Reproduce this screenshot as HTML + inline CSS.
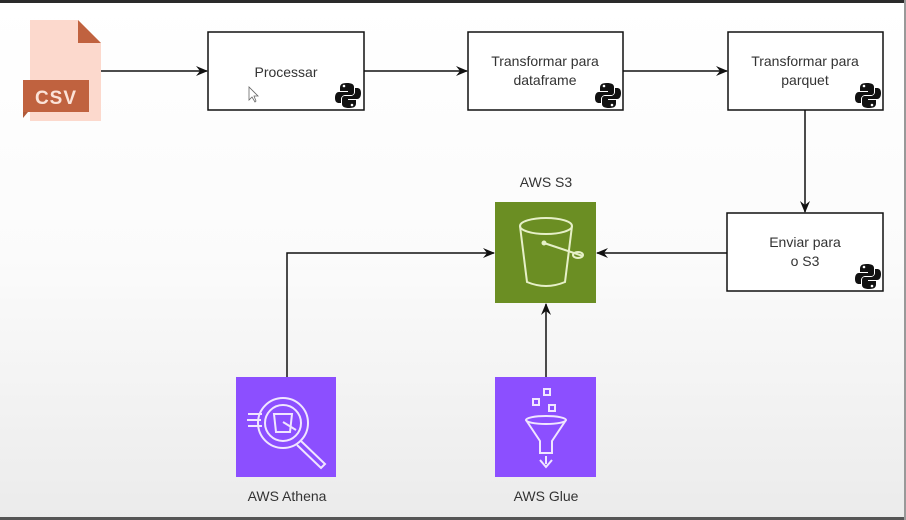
<!DOCTYPE html>
<html><head><meta charset="utf-8"><style>
html,body{margin:0;padding:0}
body{width:906px;height:520px;overflow:hidden;background:linear-gradient(#ffffff 0%,#fbfbfb 50%,#ebebeb 100%);font-family:"Liberation Sans",sans-serif;position:relative}
</style></head><body>
<svg width="906" height="520" viewBox="0 0 906 520" xmlns="http://www.w3.org/2000/svg" style="position:absolute;left:0;top:0">
<defs>
<marker id="ah" markerWidth="12" markerHeight="12" refX="11" refY="6" orient="auto" markerUnits="userSpaceOnUse">
<path d="M0,1 L12,6 L0,11 L4,6 Z" fill="#111"/>
</marker>
<g id="py">
<path d="M-1,-12 C-7,-12 -8,-10 -8,-7 L-8,-4 L0,-4 L0,-3 L-9,-3 C-12,-3 -13,0 -13,3 C-13,7 -11,8 -9,8 L-7,8 L-7,4 C-7,2 -5,0 -3,0 L3,0 C5,0 6,-1 6,-3 L6,-8 C6,-11 3,-12 -1,-12 Z" fill="#111"/>
<path d="M1,13 C7,13 8,11 8,8 L8,5 L0,5 L0,4 L9,4 C12,4 13,1 13,-2 C13,-6 11,-7 9,-7 L7,-7 L7,-3 C7,-1 5,1 3,1 L-3,1 C-5,1 -6,2 -6,4 L-6,9 C-6,12 -3,13 1,13 Z" fill="#111"/>
<circle cx="-4" cy="-9" r="1.3" fill="#fff"/><circle cx="4" cy="10" r="1.3" fill="#fff"/>
</g>
</defs>
<rect x="0" y="0" width="906" height="3" fill="#2a2a2a"/>
<rect x="0" y="517" width="906" height="3" fill="#555"/>
<rect x="904" y="0" width="2" height="520" fill="#999"/>

<path d="M30,20 L78,20 L101,43 L101,121 L30,121 Z" fill="#fcd9cd"/>
<path d="M78,20 L101,43 L78,43 Z" fill="#c0623f"/>
<path d="M23,112 L23,118 L28,112 Z" fill="#b05a3a"/>
<rect x="23" y="80" width="66" height="32" fill="#c0623f"/>
<text x="56" y="104" text-anchor="middle" font-size="19" font-weight="bold" fill="#fbe3d8" font-family="Liberation Sans,sans-serif" letter-spacing="1">CSV</text>

<g fill="#fff" stroke="#111" stroke-width="1.5">
<rect x="208" y="32" width="156" height="78"/>
<rect x="468" y="32" width="155" height="78"/>
<rect x="728" y="32" width="155" height="78"/>
<rect x="727" y="213" width="156" height="78"/>
</g>
<g font-size="14" fill="#333" text-anchor="middle">
<text x="286" y="77">Processar</text>
<text x="545" y="66">Transformar para</text>
<text x="545" y="85">dataframe</text>
<text x="805" y="66">Transformar para</text>
<text x="805" y="85">parquet</text>
<text x="805" y="247">Enviar para</text>
<text x="805" y="266">o S3</text>
<text x="546" y="187">AWS S3</text>
<text x="287" y="501">AWS Athena</text>
<text x="546" y="501">AWS Glue</text>
</g>
<use href="#py" x="348" y="95"/>
<use href="#py" x="608" y="95"/>
<use href="#py" x="868" y="95"/>
<use href="#py" x="868" y="276"/>
<path d="M249,87 L249,100 L252,97 L255,102 L256,101 L254,96 L258,96 Z" fill="#fff" stroke="#666" stroke-width="0.8"/>

<g stroke="#111" stroke-width="1.5" fill="none" marker-end="url(#ah)">
<path d="M101,71 L207,71"/>
<path d="M364,71 L467,71"/>
<path d="M623,71 L727,71"/>
<path d="M805,110 L805,212"/>
<path d="M727,253 L597,253"/>
<path d="M287,377 L287,253 L494,253"/>
<path d="M546,377 L546,304"/>
</g>

<rect x="495" y="202" width="101" height="101" fill="#6b8e23"/>
<g stroke="#e6f0c8" stroke-width="2" fill="none">
<ellipse cx="546" cy="226" rx="26" ry="8"/>
<path d="M520,226 L527,282 Q546,290 565,282 L572,226"/>
<path d="M544,243 L583,256"/>
<ellipse cx="578" cy="255" rx="5" ry="3"/>
<circle cx="544" cy="243" r="1.5" fill="#e6f0c8"/>
</g>

<rect x="236" y="377" width="100" height="100" fill="#8c4fff"/>
<g stroke="#f0e6ff" stroke-width="2" fill="none">
<circle cx="283" cy="423" r="25"/>
<circle cx="283" cy="423" r="18"/>
<path d="M301,441 L325,464 L321,468 L297,445"/>
<path d="M248,414 L262,414 M247,420 L261,420 M248,426 L262,426"/>
<path d="M274,414 L276,432 L290,432 L292,414 Z"/>
<path d="M283,422 L296,430"/>
</g>

<rect x="495" y="377" width="101" height="100" fill="#8c4fff"/>
<g stroke="#f0e6ff" stroke-width="2" fill="none">
<rect x="544" y="389" width="6" height="6"/>
<rect x="533" y="399" width="6" height="6"/>
<rect x="549" y="405" width="6" height="6"/>
<ellipse cx="546" cy="420" rx="20" ry="4"/>
<path d="M526,420 L540,441 L540,453 L552,453 L552,441 L566,420"/>
<path d="M546,456 L546,464 M540,460 L546,467 L552,460"/>
</g>
</svg>
</body></html>
